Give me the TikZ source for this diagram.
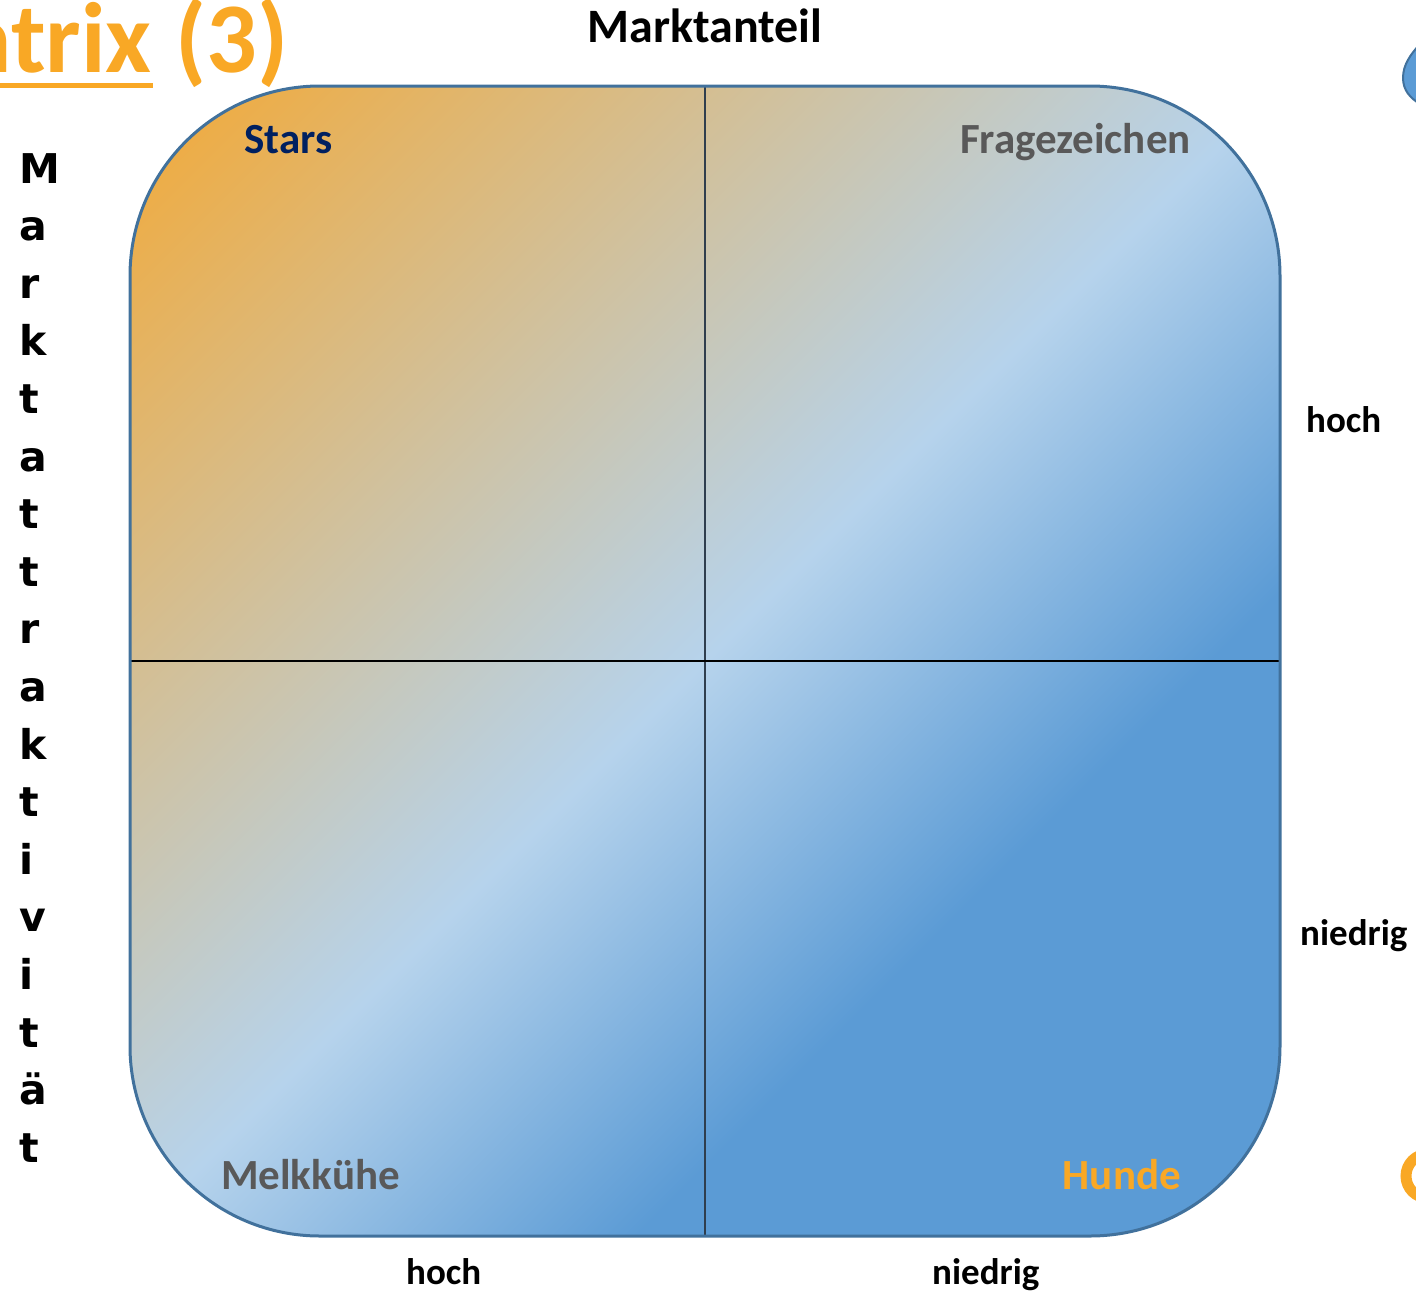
\documentclass[tikz,border=0pt]{standalone}
\usepackage{fontspec}
\setmainfont{Carlito}
\newfontfamily\vfont{DejaVu Sans}
\definecolor{cOr}{HTML}{F3A936}
\definecolor{cLb}{HTML}{B6D3EC}
\definecolor{cBl}{HTML}{5B9BD5}
\definecolor{cBorder}{HTML}{41719C}
\definecolor{cGray}{HTML}{595959}
\definecolor{cNavy}{HTML}{002060}
\definecolor{cOrange}{HTML}{F9A825}
\definecolor{cDiv}{HTML}{2F3E4E}
\pgfdeclarehorizontalshading{bcgshade}{1700pt}{color(0pt)=(cOr); color(813pt)=(cLb); color(1171pt)=(cBl); color(1626pt)=(cBl)}
\tikzset{
  lbl/.style={inner sep=0pt, font=\bfseries\fontsize{43}{50}\selectfont},
  axl/.style={inner sep=0pt, font=\bfseries\fontsize{37}{44}\selectfont},
  vlet/.style={inner sep=0pt, anchor=base west, font=\vfont\bfseries\fontsize{41}{50}\selectfont},
}
\begin{document}
\begin{tikzpicture}[x=1pt,y=-1pt]
\useasboundingbox (0,0) rectangle (1416,1293);
\clip (0,0) rectangle (1416,1293);
% title
\node[inner sep=0pt, anchor=base east, text=cOrange, font=\bfseries\fontsize{100}{110}\selectfont] (tatrix) at (152,72) {atrix};
\node[inner sep=0pt, anchor=base west, text=cOrange, font=\bfseries\fontsize{100}{110}\selectfont] (tthree) at (175,72) {(3)};
\coordinate (ul1) at (0,85.5);
\coordinate (ul2) at (153,85.5);
\draw[cOrange, line width=5pt] (ul1) -- (ul2);
% matrix
\begin{scope}
\clip[rounded corners=190pt] (130,86) rectangle (1280,1236);
\node[inner sep=0pt, rotate=-45] (shade) at (705,661) {\pgfuseshading{bcgshade}};
\end{scope}
\coordinate (vt) at (705,86);
\coordinate (vb) at (705,1236);
\coordinate (hl) at (130,661);
\coordinate (hr) at (1280,661);
\draw[cDiv, line width=2.5pt] (vt) -- (vb);
\draw[black, line width=2pt] (hl) -- (hr);
\draw[cBorder, line width=3pt, rounded corners=190pt] (130,86) rectangle (1280,1236);
% quadrant labels
\node[lbl, anchor=base west, text=cNavy] (stars) at (244,153) {Stars};
\node[lbl, anchor=base east, text=cGray] (frage) at (1191,153) {Fragezeichen};
\node[lbl, anchor=base west, text=cGray] (melk) at (221,1189) {Melkkühe};
\node[lbl, anchor=base east, text=cOrange] (hunde) at (1181,1189) {Hunde};
% axis labels
\node[inner sep=0pt, anchor=base, font=\bfseries\fontsize{48}{54}\selectfont] (mant) at (705,42) {Marktanteil};
\node[axl, anchor=base west] (rhoch) at (1306,432) {hoch};
\node[axl, anchor=base west] (rnied) at (1300,945) {niedrig};
\node[axl, anchor=base west] (bhoch) at (406,1284) {hoch};
\node[axl, anchor=base west] (bnied) at (932,1284) {niedrig};
% vertical word
\foreach \l [count=\i from 0] in {M,a,r,k,t,a,t,t,r,a,k,t,i,v,i,t,ä,t}{
  \node[vlet] (v\i) at (19,183+57.6*\i) {\l};
}
% partial shapes at right edge
\draw[cBorder, fill=cBl, line width=2pt] (1420,44) .. controls (1410,55) and (1403,65) .. (1403,78) .. controls (1403,90) and (1410,98) .. (1420,104);
\draw[cOrange, line width=11pt] (1428,1176) circle (22);
\end{tikzpicture}
\end{document}
